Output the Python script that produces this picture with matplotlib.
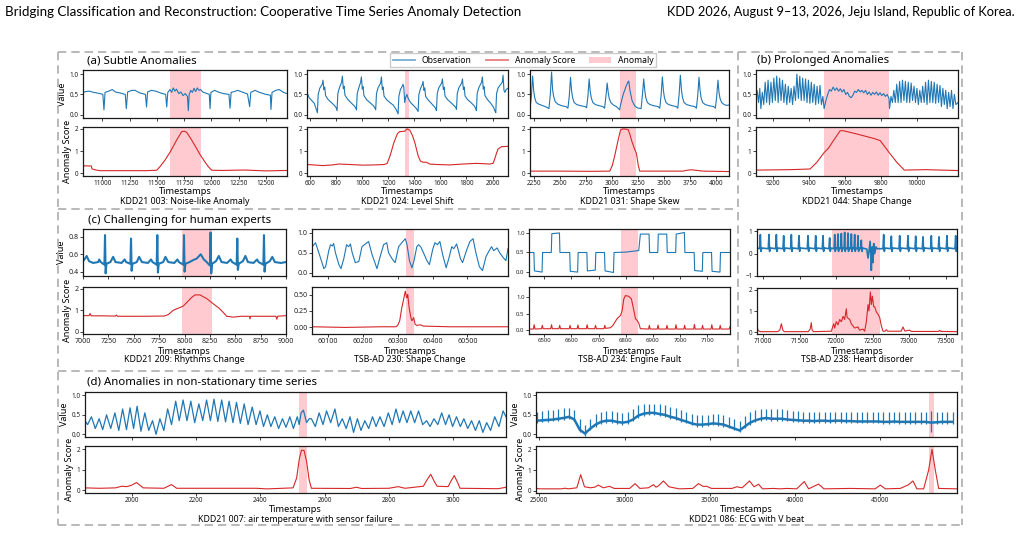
import matplotlib
matplotlib.use("Agg")
import matplotlib.pyplot as plt
from matplotlib.lines import Line2D
from matplotlib.patches import Patch

plt.rcParams['font.family'] = ['Noto Sans', 'DejaVu Sans']
plt.rcParams['lines.scale_dashes'] = False

BLUE = '#1f77b4'
RED = '#d62728'
PINK = '#ffcbd0'

# ---------------- data ----------------
A1_VALUE = [(10823,0.55),(10850,0.57),(10880,0.58),(10920,0.55),(10980,0.52),(11005,0.50),(11015,0.12),(11025,0.55),
            (11060,0.58),(11090,0.62),(11120,0.56),(11170,0.53),(11210,0.50),(11220,0.15),(11232,0.56),(11270,0.60),
            (11300,0.60),(11340,0.54),(11395,0.50),(11405,0.19),(11415,0.56),(11450,0.60),(11490,0.58),(11540,0.53),
            (11580,0.50),(11590,0.19),(11600,0.55),(11620,0.62),(11635,0.55),(11650,0.66),(11665,0.58),(11680,0.63),
            (11700,0.52),(11720,0.56),(11740,0.47),(11760,0.52),(11780,0.45),(11788,0.10),(11796,0.50),(11810,0.60),
            (11825,0.55),(11840,0.65),(11855,0.57),(11870,0.66),(11885,0.60),(11900,0.62),(11920,0.56),(11950,0.53),
            (11980,0.50),(11987,0.15),(11995,0.55),(12030,0.60),(12060,0.56),(12110,0.52),(12160,0.50),(12170,0.16),
            (12180,0.55),(12210,0.57),(12240,0.60),(12280,0.56),(12330,0.51),(12350,0.20),(12360,0.55),(12400,0.60),
            (12440,0.55),(12500,0.50),(12540,0.48),(12545,0.13),(12555,0.55),(12590,0.60),(12620,0.62),(12660,0.55),
            (12692,0.52)]
A1_SCORE = [(10823,0.34),(10900,0.33),(10905,0.20),(10940,0.15),(10980,0.12),(11200,0.12),(11400,0.12),(11498,0.14),
            (11528,0.30),(11575,0.60),(11620,0.95),(11681,1.50),(11727,1.88),(11750,1.90),(11773,1.85),(11819,1.50),
            (11860,1.15),(11895,0.85),(11935,0.55),(11971,0.30),(12002,0.14),(12100,0.13),(12300,0.15),(12500,0.11),
            (12692,0.13)]
A1_SPAN = (11620, 11900)

A2_VALUE = [(574,0.55),(590,0.42),(610,0.35),(630,0.28),(646,0.13),(654,0.05),
            (660,0.50),(672,0.65),(691,0.75),(697,0.85),(704,0.62),(710,0.68),(717,0.47),(737,0.37),(762,0.30),(787,0.22),(797,0.18),(805,0.10),
            (811,0.52),(823,0.66),(840,0.80),(846,0.95),(853,0.64),(859,0.70),(866,0.48),(886,0.38),(911,0.30),(936,0.22),(946,0.18),(954,0.12),
            (960,0.52),(972,0.66),(986,0.80),(992,0.93),(999,0.63),(1005,0.69),(1012,0.47),(1032,0.37),(1057,0.30),(1082,0.23),(1094,0.18),(1102,0.12),
            (1108,0.52),(1120,0.66),(1140,0.78),(1146,0.93),(1153,0.62),(1159,0.68),(1166,0.46),(1186,0.37),(1211,0.30),(1236,0.24),(1261,0.12),(1274,0.02),
            (1280,0.45),(1292,0.62),(1306,0.70),(1312,0.75),(1318,0.68),(1325,0.30),(1332,0.42),(1342,0.50),(1352,0.40),(1370,0.30),(1395,0.22),(1415,0.15),(1428,0.08),
            (1434,0.50),(1446,0.64),(1460,0.74),(1466,0.82),(1473,0.60),(1479,0.66),(1486,0.45),(1506,0.36),(1530,0.28),(1552,0.20),(1562,0.16),(1569,0.10),
            (1575,0.52),(1587,0.66),(1609,0.78),(1615,0.88),(1622,0.62),(1628,0.68),(1635,0.46),(1655,0.37),(1680,0.30),(1705,0.22),(1715,0.19),(1723,0.13),
            (1729,0.52),(1741,0.66),(1763,0.78),(1769,0.88),(1776,0.62),(1782,0.68),(1789,0.46),(1809,0.37),(1834,0.30),(1859,0.22),(1868,0.17),(1876,0.10),
            (1882,0.52),(1894,0.66),(1916,0.80),(1922,0.93),(1929,0.63),(1935,0.69),(1942,0.47),(1962,0.37),(1987,0.28),(2008,0.18),(2018,0.10),(2025,0.05),
            (2031,0.52),(2043,0.66),(2075,0.80),(2081,0.97),(2088,0.60),(2095,0.55),(2105,0.62),(2118,0.65)]
A2_SCORE = [(574,0.40),(620,0.38),(697,0.35),(770,0.38),(820,0.42),(900,0.40),(1000,0.37),(1100,0.38),(1170,0.40),
            (1190,0.45),(1210,0.75),(1223,1.00),(1240,1.35),(1256,1.60),(1270,1.80),(1287,1.88),(1325,1.90),(1343,2.00),
            (1364,1.95),(1385,1.70),(1402,1.40),(1428,0.80),(1446,0.55),(1466,0.50),(1492,0.50),(1517,0.42),(1569,0.40),
            (1671,0.38),(1774,0.42),(1876,0.45),(1979,0.42),(2004,0.45),(2020,0.70),(2030,0.90),(2043,1.10),(2069,1.20),
            (2118,1.22)]
A2_SPAN = (1325, 1358)

A3_VALUE = [(2210,0.12),(2223,0.45),(2235,0.95),(2245,0.60),(2255,0.42),(2270,0.30),(2295,0.26),(2335,0.22),(2375,0.18),(2392,0.15),
            (2405,0.50),(2417,1.05),(2427,0.62),(2437,0.45),(2452,0.32),(2477,0.26),(2517,0.22),(2557,0.20),(2574,0.16),
            (2587,0.45),(2599,0.92),(2609,0.60),(2619,0.42),(2634,0.30),(2659,0.25),(2699,0.22),(2739,0.20),(2753,0.17),
            (2766,0.45),(2778,0.88),(2788,0.58),(2798,0.42),(2813,0.30),(2838,0.25),(2878,0.22),(2910,0.20),(2926,0.16),
            (2939,0.45),(2951,0.78),(2961,0.55),(2971,0.40),(2986,0.30),(3011,0.24),(3040,0.20),(3060,0.15),(3070,0.12),
            (3085,0.30),(3105,0.50),(3130,0.68),(3150,0.80),(3158,0.83),(3170,0.60),(3190,0.35),(3215,0.22),(3240,0.17),(3277,0.15),
            (3290,0.50),(3302,0.88),(3312,0.60),(3322,0.42),(3337,0.30),(3362,0.25),(3402,0.22),(3440,0.20),(3456,0.16),
            (3469,0.48),(3481,0.93),(3491,0.60),(3501,0.42),(3516,0.30),(3541,0.25),(3581,0.22),(3615,0.20),(3629,0.16),
            (3642,0.50),(3654,0.97),(3664,0.62),(3674,0.43),(3689,0.30),(3714,0.25),(3754,0.22),(3793,0.20),(3808,0.16),
            (3821,0.48),(3833,0.92),(3843,0.60),(3853,0.42),(3868,0.30),(3893,0.25),(3933,0.22),(3975,0.20),(3990,0.16),
            (4003,0.45),(4015,0.85),(4025,0.55),(4035,0.40),(4050,0.30),(4075,0.25),(4100,0.23),(4121,0.24)]
A3_SCORE = [(2210,0.10),(2500,0.10),(2800,0.09),(2976,0.10),(3000,0.35),(3024,0.80),(3056,1.50),(3079,1.95),(3100,2.00),
            (3120,2.00),(3152,1.97),(3170,1.75),(3184,1.50),(3210,1.15),(3232,0.90),(3250,0.35),(3264,0.10),(3500,0.10),
            (3680,0.10),(3720,0.14),(3760,0.16),(3800,0.14),(3871,0.10),(4121,0.08)]
A3_SPAN = (3072, 3232)

B_VALUE = [(9107,0.45),(9113,0.60),(9121,0.30),(9128,0.65),(9134,0.15),(9142,0.55),(9150,0.25),(9158,0.80),(9166,0.30),
           (9174,0.85),(9182,0.25),(9190,0.80),(9198,0.30),(9206,0.90),(9214,0.35),(9222,0.95),(9230,0.30),(9238,0.90),
           (9246,0.35),(9254,0.85),(9262,0.30),(9270,0.75),(9278,0.25),(9286,0.70),(9294,0.30),(9302,0.65),(9310,0.25),
           (9318,0.70),(9326,0.35),(9334,1.00),(9342,0.40),(9350,0.95),(9358,0.35),(9366,0.90),(9374,0.35),(9382,0.88),
           (9390,0.30),(9398,0.85),(9406,0.28),(9414,0.80),(9422,0.30),(9430,0.75),(9438,0.25),(9446,0.70),(9454,0.28),
           (9462,0.72),(9470,0.25),(9478,0.45),(9485,0.15),
           (9495,0.35),(9505,0.50),(9515,0.62),(9525,0.58),(9535,0.68),(9545,0.60),(9555,0.66),(9565,0.58),(9575,0.64),
           (9585,0.56),(9595,0.62),(9605,0.50),(9615,0.55),(9625,0.45),(9635,0.42),(9645,0.48),(9655,0.58),(9665,0.55),
           (9675,0.62),(9685,0.56),(9695,0.60),(9705,0.54),(9715,0.60),(9725,0.50),(9735,0.56),(9745,0.48),(9755,0.55),
           (9765,0.50),(9775,0.56),(9785,0.48),(9795,0.54),(9805,0.47),(9815,0.52),(9825,0.45),(9835,0.50),(9845,0.40),
           (9848,0.15),
           (9856,0.45),(9864,0.30),(9872,0.60),(9880,0.30),(9888,0.75),(9896,0.30),(9904,0.82),(9912,0.30),(9920,0.85),
           (9928,0.35),(9936,0.82),(9944,0.30),(9952,0.80),(9960,0.30),(9968,0.78),(9976,0.35),(9984,0.70),(9992,0.30),
           (10000,0.65),(10008,0.25),(10016,0.60),(10024,0.30),(10032,0.70),(10040,0.30),(10048,0.80),(10056,0.25),
           (10064,0.85),(10072,0.30),(10080,0.82),(10088,0.30),(10096,0.80),(10104,0.28),(10112,0.75),(10120,0.30),
           (10128,0.72),(10136,0.20),(10144,0.65),(10152,0.25),(10160,0.60),(10168,0.15),(10176,0.55),(10184,0.20),
           (10192,0.60),(10200,0.15),(10208,0.50),(10216,0.25),(10228,0.30)]
B_SCORE = [(9107,0.15),(9300,0.17),(9407,0.20),(9444,0.50),(9485,0.95),(9509,1.15),(9537,1.50),(9574,1.95),(9592,1.95),
           (9667,1.80),(9759,1.60),(9796,1.50),(9846,0.95),(9889,0.50),(9930,0.15),(10050,0.17),(10228,0.13)]
B_SPAN = (9485, 9846)

C1_VALUE = [(7000,0.52),(7020,0.55),(7036,0.58),(7060,0.52),(7100,0.50),(7150,0.51),(7160,0.54),(7175,0.51),(7211,0.48),
            (7217,0.82),(7223,0.38),(7231,0.49),(7270,0.51),(7297,0.57),(7320,0.51),(7380,0.50),(7410,0.54),(7425,0.51),
            (7467,0.49),(7473,0.78),(7479,0.41),(7487,0.49),(7530,0.51),(7553,0.57),(7580,0.51),(7640,0.50),(7670,0.54),
            (7685,0.51),(7726,0.48),(7732,0.82),(7738,0.39),(7746,0.49),(7790,0.51),(7812,0.57),(7840,0.51),(7900,0.50),
            (7930,0.54),(7945,0.51),(7989,0.48),(7995,0.82),(8001,0.40),(8009,0.49),(8050,0.51),(8080,0.53),(8120,0.55),
            (8160,0.60),(8190,0.54),(8210,0.52),(8251,0.47),(8257,0.85),(8263,0.38),(8271,0.49),(8310,0.52),(8338,0.58),
            (8365,0.51),(8420,0.50),(8455,0.54),(8470,0.51),(8514,0.48),(8520,0.78),(8526,0.42),(8534,0.49),(8575,0.52),
            (8600,0.58),(8625,0.51),(8680,0.50),(8715,0.54),(8730,0.51),(8777,0.48),(8783,0.82),(8789,0.40),(8797,0.49),
            (8840,0.52),(8865,0.57),(8890,0.51),(8950,0.50),(9000,0.51)]
C1_SCORE = [(7000,0.75),(7060,0.75),(7070,0.85),(7080,0.74),(7200,0.74),(7320,0.73),(7330,0.78),(7340,0.72),(7600,0.72),
            (7800,0.73),(7840,0.80),(7890,1.00),(7940,1.10),(7988,1.20),(8030,1.40),(8070,1.60),(8103,1.72),(8152,1.72),
            (8218,1.55),(8284,1.30),(8340,1.10),(8382,0.90),(8415,0.72),(8481,0.68),(8560,0.72),(8640,0.72),(8645,0.60),
            (8652,0.72),(8900,0.72),(8910,0.58),(8918,0.72),(9000,0.75)]
C1_SPAN = (7975, 8275)

C2_VALUE = [(60056,0.65),(60065,0.75),(60070,0.62),(60080,0.35),(60089,0.10),(60094,0.15),(60103,0.55),(60108,0.70),
            (60113,0.67),(60117,0.73),(60122,0.50),(60132,0.20),(60138,0.10),(60146,0.35),(60154,0.70),(60160,0.65),
            (60165,0.72),(60170,0.50),(60179,0.25),(60189,0.28),(60198,0.65),(60208,0.72),(60217,0.78),(60227,0.45),
            (60241,0.10),(60250,0.40),(60260,0.70),(60269,0.75),(60274,0.50),(60284,0.35),(60293,0.25),(60303,0.65),
            (60312,0.75),(60322,0.85),(60327,0.70),(60334,0.30),(60341,0.12),(60347,0.30),(60355,0.65),(60360,0.70),
            (60366,0.65),(60374,0.50),(60384,0.30),(60391,0.20),(60401,0.60),(60407,0.75),(60414,0.70),(60421,0.78),
            (60429,0.45),(60439,0.12),(60448,0.40),(60455,0.65),(60461,0.60),(60469,0.72),(60474,0.55),(60480,0.35),
            (60486,0.25),(60497,0.55),(60507,0.78),(60516,0.85),(60524,0.50),(60534,0.15),(60543,0.05),(60553,0.40),
            (60562,0.55),(60569,0.65),(60575,0.55),(60585,0.62),(60592,0.50),(60602,0.38),(60610,0.30),(60616,0.60)]
C2_SCORE = [(60056,0.01),(60150,0.00),(60250,0.01),(60295,0.01),(60300,0.03),(60306,0.10),(60312,0.30),(60317,0.42),
            (60320,0.50),(60322,0.55),(60325,0.47),(60327,0.45),(60329,0.50),(60333,0.30),(60338,0.15),(60341,0.10),
            (60346,0.15),(60350,0.05),(60355,0.03),(60365,0.04),(60374,0.02),(60450,0.01),(60616,0.01)]
C2_SPAN = (60324, 60347)

C3_VALUE = [(6444,0.50),(6462,0.50),(6464,0.03),(6492,0.00),(6494,0.50),(6526,0.50),(6528,0.98),(6556,1.00),(6558,0.50),
            (6594,0.50),(6596,0.02),(6623,0.00),(6625,0.50),(6657,0.50),(6659,0.03),(6688,0.05),(6690,0.50),(6722,0.50),
            (6724,0.03),(6755,-0.01),(6757,0.50),(6800,0.51),(6848,0.55),(6854,0.97),(6886,0.97),(6888,0.50),(6918,0.50),
            (6920,0.97),(6951,0.97),(6953,0.50),(6984,0.50),(6986,0.97),(7016,1.01),(7018,0.50),(7052,0.50),(7054,0.04),
            (7082,0.02),(7084,0.50),(7116,0.50),(7118,0.02),(7147,0.00),(7149,0.50),(7184,0.50)]
C3_SCORE = [(6444,0.04),(6460,0.04),(6463,0.17),(6466,0.04),(6490,0.05),(6493,0.15),(6496,0.05),(6524,0.05),(6527,0.17),
            (6530,0.05),(6554,0.05),(6557,0.15),(6560,0.05),(6592,0.05),(6595,0.15),(6598,0.05),(6621,0.05),(6624,0.16),
            (6627,0.05),(6655,0.05),(6658,0.17),(6661,0.05),(6686,0.05),(6689,0.15),(6692,0.05),(6720,0.05),(6723,0.15),
            (6726,0.06),(6744,0.08),(6753,0.15),(6768,0.35),(6781,0.45),(6787,0.60),(6793,0.95),(6799,1.05),(6811,1.03),
            (6821,0.95),(6830,0.60),(6836,0.35),(6842,0.30),(6848,0.22),(6854,0.05),(6884,0.04),(6887,0.15),(6890,0.04),
            (6916,0.04),(6919,0.16),(6922,0.04),(6949,0.04),(6952,0.15),(6955,0.04),(6982,0.04),(6985,0.17),(6988,0.04),
            (7014,0.04),(7017,0.15),(7020,0.04),(7050,0.04),(7053,0.18),(7056,0.04),(7080,0.04),(7083,0.15),(7086,0.04),
            (7114,0.04),(7117,0.17),(7120,0.04),(7145,0.04),(7148,0.15),(7151,0.04),(7181,0.04),(7184,0.12)]
C3_SPAN = (6784, 6846)

C4_VALUE = [(70918,0.25),(70954,0.22),(70964,0.85),(70972,0.10),(70984,0.25),(71072,0.22),(71082,0.85),(71090,0.10),
            (71102,0.25),(71173,0.22),(71183,0.85),(71191,0.10),(71203,0.25),(71273,0.22),(71283,0.80),(71291,0.10),
            (71303,0.25),(71378,0.22),(71388,0.85),(71396,0.10),(71408,0.25),(71483,0.22),(71493,0.80),(71501,0.10),
            (71513,0.25),(71606,0.22),(71616,0.80),(71624,0.10),(71636,0.25),(71711,0.22),(71721,0.80),(71729,0.10),
            (71741,0.25),(71811,0.22),(71821,0.80),(71829,0.10),(71841,0.25),(71902,0.22),(71912,0.70),(71920,0.10),
            (71932,0.25),(71973,0.22),(71981,0.85),(71988,0.10),(72000,0.25),(72018,0.22),(72026,0.88),(72033,0.10),
            (72045,0.25),(72064,0.22),(72072,0.90),(72079,0.10),(72091,0.25),(72109,0.22),(72117,0.95),(72124,0.10),
            (72136,0.25),(72155,0.22),(72163,0.92),(72170,0.10),(72182,0.25),(72201,0.22),(72209,0.88),(72216,0.10),
            (72228,0.25),(72246,0.22),(72254,0.85),(72261,0.10),(72273,0.25),(72292,0.22),(72300,0.80),(72307,0.10),
            (72319,0.25),(72337,0.22),(72345,0.60),(72352,0.10),(72364,0.25),(72420,0.20),(72437,-0.20),(72450,0.10),
            (72465,0.55),(72475,0.00),(72482,-0.75),(72495,0.30),(72505,-0.40),(72515,0.45),(72528,0.00),(72545,0.30),
            (72560,0.22),(72641,0.22),(72651,0.85),(72659,0.10),(72671,0.25),(72746,0.22),(72756,0.78),(72764,0.10),
            (72776,0.25),(72860,0.22),(72870,0.80),(72878,0.10),(72890,0.25),(72974,0.22),(72984,0.80),(72992,0.10),
            (73004,0.25),(73079,0.22),(73089,0.78),(73097,0.10),(73109,0.25),(73179,0.22),(73189,0.75),(73197,0.10),
            (73209,0.25),(73293,0.22),(73303,0.80),(73311,0.10),(73323,0.25),(73398,0.22),(73408,0.75),(73416,0.10),
            (73428,0.25),(73507,0.22),(73517,0.80),(73525,0.10),(73537,0.25),(73626,0.22),(73636,0.80),(73644,0.10),
            (73654,0.25)]
C4_SCORE = [(70918,0.25),(70935,0.08),(70960,0.03),(71200,0.03),(71230,0.10),(71251,0.40),(71272,0.10),(71290,0.03),
            (71620,0.03),(71645,0.15),(71661,0.45),(71672,0.10),(71690,0.03),(71935,0.05),(71967,0.40),(71981,0.20),
            (72003,0.50),(72026,0.35),(72049,0.60),(72072,0.50),(72095,0.75),(72117,0.60),(72140,1.10),(72150,0.70),
            (72186,0.60),(72209,0.40),(72231,0.30),(72254,0.20),(72300,0.25),(72322,0.10),(72368,0.15),(72391,0.05),
            (72414,0.50),(72437,1.30),(72450,1.00),(72469,1.90),(72482,1.30),(72496,1.70),(72514,1.20),(72528,1.20),
            (72551,0.95),(72573,0.85),(72596,0.70),(72619,0.30),(72642,0.05),(72670,0.05),(72687,0.12),(72705,0.05),
            (72890,0.05),(72915,0.25),(72940,0.06),(73007,0.10),(73030,0.04),(73400,0.04),(73417,0.09),(73435,0.04),
            (73654,0.03)]
C4_SPAN = (71944, 72605)

D1_VALUE = [(1855,0.35),(1863,0.25),(1875,0.45),(1887,0.15),(1899,0.40),(1910,0.12),(1922,0.50),(1935,0.15),(1948,0.55),
            (1960,0.10),(1972,0.65),(1984,0.12),(1995,0.68),(2006,0.15),(2017,0.72),(2029,0.08),(2041,0.55),(2053,0.10),
            (2065,0.35),(2076,0.00),(2088,0.40),(2100,0.10),(2112,0.65),(2124,0.25),(2137,0.85),(2148,0.35),(2160,0.88),
            (2172,0.35),(2184,0.85),(2196,0.30),(2209,0.78),(2221,0.35),(2233,0.88),(2245,0.35),(2256,0.90),(2268,0.33),
            (2280,0.88),(2292,0.32),(2303,0.85),(2315,0.30),(2326,0.82),(2338,0.28),(2350,0.78),(2362,0.25),(2375,0.70),
            (2387,0.25),(2399,0.60),(2410,0.20),(2422,0.50),(2433,0.20),(2445,0.45),(2457,0.15),(2469,0.40),(2480,0.18),
            (2492,0.45),(2503,0.15),(2515,0.45),(2521,0.25),(2527,0.55),(2534,0.62),(2544,0.30),(2552,0.40),(2559,0.40),
            (2571,0.20),(2583,0.55),(2595,0.25),(2606,0.60),(2619,0.30),(2632,0.65),(2643,0.20),(2655,0.40),(2667,0.15),
            (2679,0.45),(2690,0.05),(2702,0.40),(2713,0.10),(2725,0.35),(2737,0.15),(2749,0.45),(2760,0.20),(2772,0.45),
            (2785,0.20),(2798,0.55),(2810,0.25),(2822,0.65),(2833,0.30),(2844,0.60),(2856,0.30),(2868,0.60),(2880,0.30),
            (2892,0.60),(2905,0.25),(2917,0.35),(2928,0.20),(2940,0.40),(2952,0.25),(2964,0.55),(2976,0.25),(2987,0.50),
            (2998,0.20),(3010,0.45),(3022,0.20),(3033,0.40),(3045,0.15),(3057,0.35),(3069,0.10),(3081,0.35),(3092,0.05),
            (3104,0.30),(3116,0.10),(3129,0.45),(3142,0.20),(3155,0.60),(3164,0.45)]
D1_SCORE = [(1855,0.12),(1900,0.10),(1950,0.12),(1969,0.20),(1985,0.18),(2000,0.25),(2015,0.38),(2036,0.12),(2100,0.10),
            (2124,0.28),(2140,0.10),(2388,0.10),(2420,0.07),(2502,0.12),(2513,0.60),(2521,1.50),(2528,1.95),(2536,1.95),
            (2544,1.40),(2552,0.50),(2559,0.10),(2680,0.09),(2699,0.15),(2715,0.09),(2800,0.10),(2829,0.18),(2850,0.10),
            (2907,0.20),(2918,0.50),(2930,0.78),(2942,0.40),(2950,0.20),(2984,0.18),(2993,0.45),(3003,0.72),(3013,0.40),
            (3021,0.10),(3140,0.08),(3164,0.15)]
D1_SPAN = (2521, 2544)

D2_BEATS = [24870,25180,25495,25805,26120,26430,26745,27055,27370,27680,27995,28305,28620,28930,29245,29555,29870,
            30180,30495,30805,31120,31430,31745,32055,32370,32680,32995,33305,33620,33930,34245,34555,34870,35180,
            35495,35805,36120,36430,36745,37055,37370,37680,37995,38305,38620,38930,39245,39555,39870,40180,40495,
            40805,41120,41430,41745,42055,42370,42680,42995,43305,43620,43930,44245,44555,44870,45180,45495,45805,
            46120,46430,46745,47055,47370,47680,48000,48310,48620,48930,49245]
D2_BASE = [0.35,0.36,0.37,0.38,0.40,0.42,0.45,0.38,0.12,0.02,0.15,0.25,0.32,0.35,0.35,0.32,0.30,
           0.32,0.38,0.48,0.53,0.55,0.55,0.52,0.50,0.45,0.42,0.37,0.33,0.28,0.25,0.25,0.26,0.28,
           0.27,0.25,0.20,0.15,0.10,0.20,0.30,0.36,0.40,0.42,0.40,0.40,0.40,0.38,0.37,0.36,0.35,
           0.35,0.34,0.35,0.35,0.34,0.35,0.35,0.34,0.34,0.33,0.33,0.33,0.33,0.33,0.32,0.32,0.33,
           0.32,0.32,0.32,0.32,0.32,0.32,0.30,0.31,0.32,0.32,0.32]
D2_PEAK = [0.58,0.60,0.62,0.63,0.65,0.67,0.68,0.62,0.40,0.25,0.40,0.52,0.58,0.60,0.60,0.57,0.55,
           0.58,0.65,0.75,0.78,0.78,0.78,0.77,0.75,0.70,0.67,0.62,0.58,0.53,0.50,0.50,0.50,0.52,
           0.52,0.50,0.45,0.40,0.35,0.48,0.58,0.63,0.65,0.66,0.65,0.64,0.64,0.62,0.60,0.60,0.58,
           0.58,0.57,0.58,0.58,0.57,0.58,0.58,0.57,0.57,0.57,0.57,0.57,0.57,0.57,0.57,0.56,0.57,
           0.56,0.56,0.56,0.57,0.57,0.56,0.60,0.56,0.57,0.58,0.58]
D2_LOW = [0.30,0.31,0.32,0.33,0.35,0.37,0.40,0.33,0.07,-0.03,0.10,0.20,0.27,0.30,0.30,0.27,0.25,
          0.27,0.33,0.43,0.48,0.50,0.50,0.47,0.45,0.40,0.37,0.32,0.28,0.23,0.20,0.20,0.21,0.23,
          0.22,0.20,0.15,0.10,0.05,0.15,0.25,0.31,0.35,0.37,0.35,0.35,0.35,0.33,0.32,0.31,0.30,
          0.30,0.29,0.30,0.30,0.29,0.30,0.30,0.29,0.29,0.28,0.28,0.28,0.28,0.28,0.27,0.27,0.28,
          0.27,0.27,0.27,0.27,0.27,0.27,0.05,0.26,0.27,0.27,0.27]
D2_SCORE = [(24806,0.25),(24850,0.12),(25000,0.10),(26300,0.10),(26509,0.13),(26700,0.10),(27200,0.15),(27429,0.78),
            (27650,0.20),(28000,0.15),(28250,0.18),(28466,0.28),(28750,0.15),(29112,0.22),(29400,0.12),(29738,0.12),
            (30300,0.12),(30619,0.35),(30900,0.12),(31400,0.15),(31695,0.30),(31850,0.18),(32000,0.25),(32282,0.48),
            (32600,0.20),(33200,0.10),(34000,0.12),(34337,0.35),(34600,0.22),(34826,0.22),(35100,0.12),(36300,0.12),
            (36588,0.20),(36900,0.15),(37331,0.48),(37600,0.20),(37860,0.32),(38100,0.10),(38740,0.12),(39100,0.10),
            (39523,0.12),(40100,0.10),(40541,0.45),(40800,0.10),(41382,0.33),(41700,0.10),(43241,0.12),(44700,0.10),
            (45003,0.28),(45300,0.10),(46177,0.12),(46666,0.30),(46920,0.48),(47150,0.10),(47547,0.10),(47840,1.00),
            (48036,2.00),(48232,1.00),(48428,0.12),(49504,0.10)]
D2_SPAN = (47840, 48134)

# ---------------- figure ----------------
W, H = 1020, 534
fig = plt.figure(figsize=(W / 100, H / 100), dpi=100)


def add_ax(x0, y0, x1, y1):
    return fig.add_axes([x0 / W, 1 - y1 / H, (x1 - x0) / W, (y1 - y0) / H])


def style(ax, fs):
    for s in ax.spines.values():
        s.set_linewidth(0.9)
        s.set_color('#1a1a1a')
    ax.tick_params(axis='both', labelsize=fs, length=2.0, width=0.6, pad=1.2, colors='#222222')


def panel(x0, x1, yv, ys, value, score, span, xlim, xticks, vyl, vyt, syl, syt,
          vlw=0.8, ylab=False, fs=4.6, labfs=6.5):
    axv = add_ax(x0, yv[0], x1, yv[1])
    axs = add_ax(x0, ys[0], x1, ys[1])
    if value is not None:
        t, v = zip(*value)
        axv.plot(t, v, color=BLUE, lw=vlw, solid_joinstyle='round')
    t, s = zip(*score)
    axs.plot(t, s, color=RED, lw=0.8)
    for ax in (axv, axs):
        ax.axvspan(span[0], span[1], color=PINK, lw=0, zorder=0)
        ax.set_xlim(*xlim)
        ax.set_xticks(xticks)
        style(ax, fs)
    axv.set_xticklabels([])
    axs.set_xticklabels([str(x) for x in xticks])
    axv.set_ylim(*vyl)
    axv.set_yticks(vyt)
    axs.set_ylim(*syl)
    axs.set_yticks(syt)
    if ylab:
        axv.set_ylabel('Value', fontsize=labfs, labelpad=2)
        axs.set_ylabel('Anomaly Score', fontsize=labfs, labelpad=2)
    return axv, axs


def caption(x0, x1, y1, y2, text):
    xc = (x0 + x1) / 2 / W
    fig.text(xc, 1 - y1 / H, 'Timestamps', ha='center', va='center', fontsize=6.6)
    fig.text(xc, 1 - y2 / H, text, ha='center', va='center', fontsize=6.3)


VT = [0.0, 0.5, 1.0]
ST = [0, 1, 2]

# (a)
panel(83, 287, (70, 118), (127, 176), A1_VALUE, A1_SCORE, A1_SPAN, (10823, 12692),
      [11000, 11250, 11500, 11750, 12000, 12250, 12500], (-0.08, 1.1), VT, (-0.12, 2.09), ST, ylab=True)
caption(83, 287, 192, 202, 'KDD21 003: Noise-like Anomaly')
panel(307, 508, (70, 118), (127, 176), A2_VALUE, A2_SCORE, A2_SPAN, (574, 2119),
      [600, 800, 1000, 1200, 1400, 1600, 1800, 2000], (-0.08, 1.1), VT, (-0.12, 2.09), ST)
caption(307, 508, 192, 202, 'KDD21 024: Level Shift')
panel(530, 729, (70, 118), (127, 176), A3_VALUE, A3_SCORE, A3_SPAN, (2210, 4121),
      [2250, 2500, 2750, 3000, 3250, 3500, 3750, 4000], (-0.08, 1.1), VT, (-0.12, 2.09), ST)
caption(530, 729, 192, 202, 'KDD21 031: Shape Skew')
# (b)
panel(756, 958, (70, 118), (127, 176), B_VALUE, B_SCORE, B_SPAN, (9107, 10228),
      [9200, 9400, 9600, 9800, 10000], (-0.08, 1.1), VT, (-0.12, 2.12), ST)
caption(756, 958, 192, 202, 'KDD21 044: Shape Change')
# (c)
panel(83, 286, (229, 276), (287, 334), C1_VALUE, C1_SCORE, C1_SPAN, (7000, 9000),
      [7000, 7250, 7500, 7750, 8000, 8250, 8500, 8750, 9000], (0.35, 0.89), [0.4, 0.6, 0.8],
      (-0.11, 2.09), ST, vlw=1.5, ylab=True, fs=5.1)
caption(83, 286, 351, 360, 'KDD21 209: Rhythms Change')
panel(312, 508, (229, 276), (287, 334), C2_VALUE, C2_SCORE, C2_SPAN, (60055, 60616),
      [60100, 60200, 60300, 60400, 60500], (-0.085, 1.094), VT, (-0.1, 0.615), [0.0, 0.25, 0.5], fs=5.1)
caption(312, 508, 351, 360, 'TSB-AD 230: Shape Change')
panel(529, 730, (229, 276), (287, 334), C3_VALUE, C3_SCORE, C3_SPAN, (6444, 7184),
      [6500, 6600, 6700, 6800, 6900, 7000, 7100], (-0.1, 1.1), VT, (-0.11, 1.31), [0.0, 0.5, 1.0], fs=4.3)
caption(529, 730, 351, 360, 'TSB-AD 234: Engine Fault')
panel(757, 957, (229, 276), (288, 334), C4_VALUE, C4_SCORE, C4_SPAN, (70918, 73654),
      [71000, 71500, 72000, 72500, 73000, 73500], (-1.0, 1.1), [-1, 0, 1], (-0.08, 2.08), ST, vlw=1.2)
caption(757, 957, 351, 360, 'TSB-AD 238: Heart disorder')
# (d)
panel(85, 506, (392, 437), (446, 493), D1_VALUE, D1_SCORE, D1_SPAN, (1855, 3164),
      [2000, 2200, 2400, 2600, 2800, 3000], (-0.068, 1.085), VT, (-0.13, 2.16), ST, vlw=0.9, ylab=True)
caption(85, 506, 509, 520, 'KDD21 007: air temperature with sensor failure')
axv, axs = panel(536, 957, (392, 437), (446, 493), None, D2_SCORE, D2_SPAN, (24806, 49504),
                 [25000, 30000, 35000, 40000, 45000], (-0.068, 1.085), VT, (-0.1, 2.16), ST, ylab=True)
axv.plot(D2_BEATS, D2_BASE, color=BLUE, lw=1.8)
axv.vlines(D2_BEATS, D2_LOW, D2_PEAK, color=BLUE, lw=0.9)
caption(536, 957, 509, 520, 'KDD21 086: ECG with V beat')

# titles
fig.text(87 / W, 1 - 61 / H, '(a) Subtle Anomalies', ha='left', va='center', fontsize=8.2)
fig.text(757 / W, 1 - 61 / H, '(b) Prolonged Anomalies', ha='left', va='center', fontsize=8.2)
fig.text(88 / W, 1 - 220 / H, '(c) Challenging for human experts', ha='left', va='center', fontsize=8.2)
fig.text(87 / W, 1 - 383 / H, '(d) Anomalies in non-stationary time series', ha='left', va='center', fontsize=8.2)

# header
fig.text(5 / W, 1 - 12 / H, 'Bridging Classification and Reconstruction: Cooperative Time Series Anomaly Detection',
         ha='left', va='center', fontsize=9.6, family=['Lato', 'DejaVu Sans'])
fig.text(1015 / W, 1 - 12 / H, 'KDD 2026, August 9\u201313, 2026, Jeju Island, Republic of Korea.',
         ha='right', va='center', fontsize=9.2, family=['Lato', 'DejaVu Sans'])

# legend
handles = [Line2D([], [], color=BLUE, lw=1.3, alpha=0.6), Line2D([], [], color=RED, lw=1.3, alpha=0.6),
           Patch(facecolor=PINK, edgecolor='none')]
fig.legend(handles, ['Observation', 'Anomaly Score', 'Anomaly'], loc='upper left',
           bbox_to_anchor=(390 / W, 1 - 53 / H), ncol=3, fontsize=6.2, frameon=True, handlelength=2.6,
           handletextpad=0.8, columnspacing=1.6, borderpad=0.3, fancybox=False, edgecolor='#cccccc',
           framealpha=1.0, borderaxespad=0)


# dashed group boxes
def dline(x0, y0, x1, y1):
    ln = Line2D([x0 / W, x1 / W], [1 - y0 / H, 1 - y1 / H], transform=fig.transFigure, color='#b3b3b3',
                lw=1.3, linestyle=(0, (6.0, 3.6)))
    fig.add_artist(ln)


dline(58, 52, 962, 52)
dline(58, 52, 58, 525)
dline(962, 52, 962, 525)
dline(738, 52, 738, 371)
dline(58, 209, 738, 209)
dline(58, 371, 962, 371)
dline(58, 525, 962, 525)

fig.savefig('out.png', dpi=100)
